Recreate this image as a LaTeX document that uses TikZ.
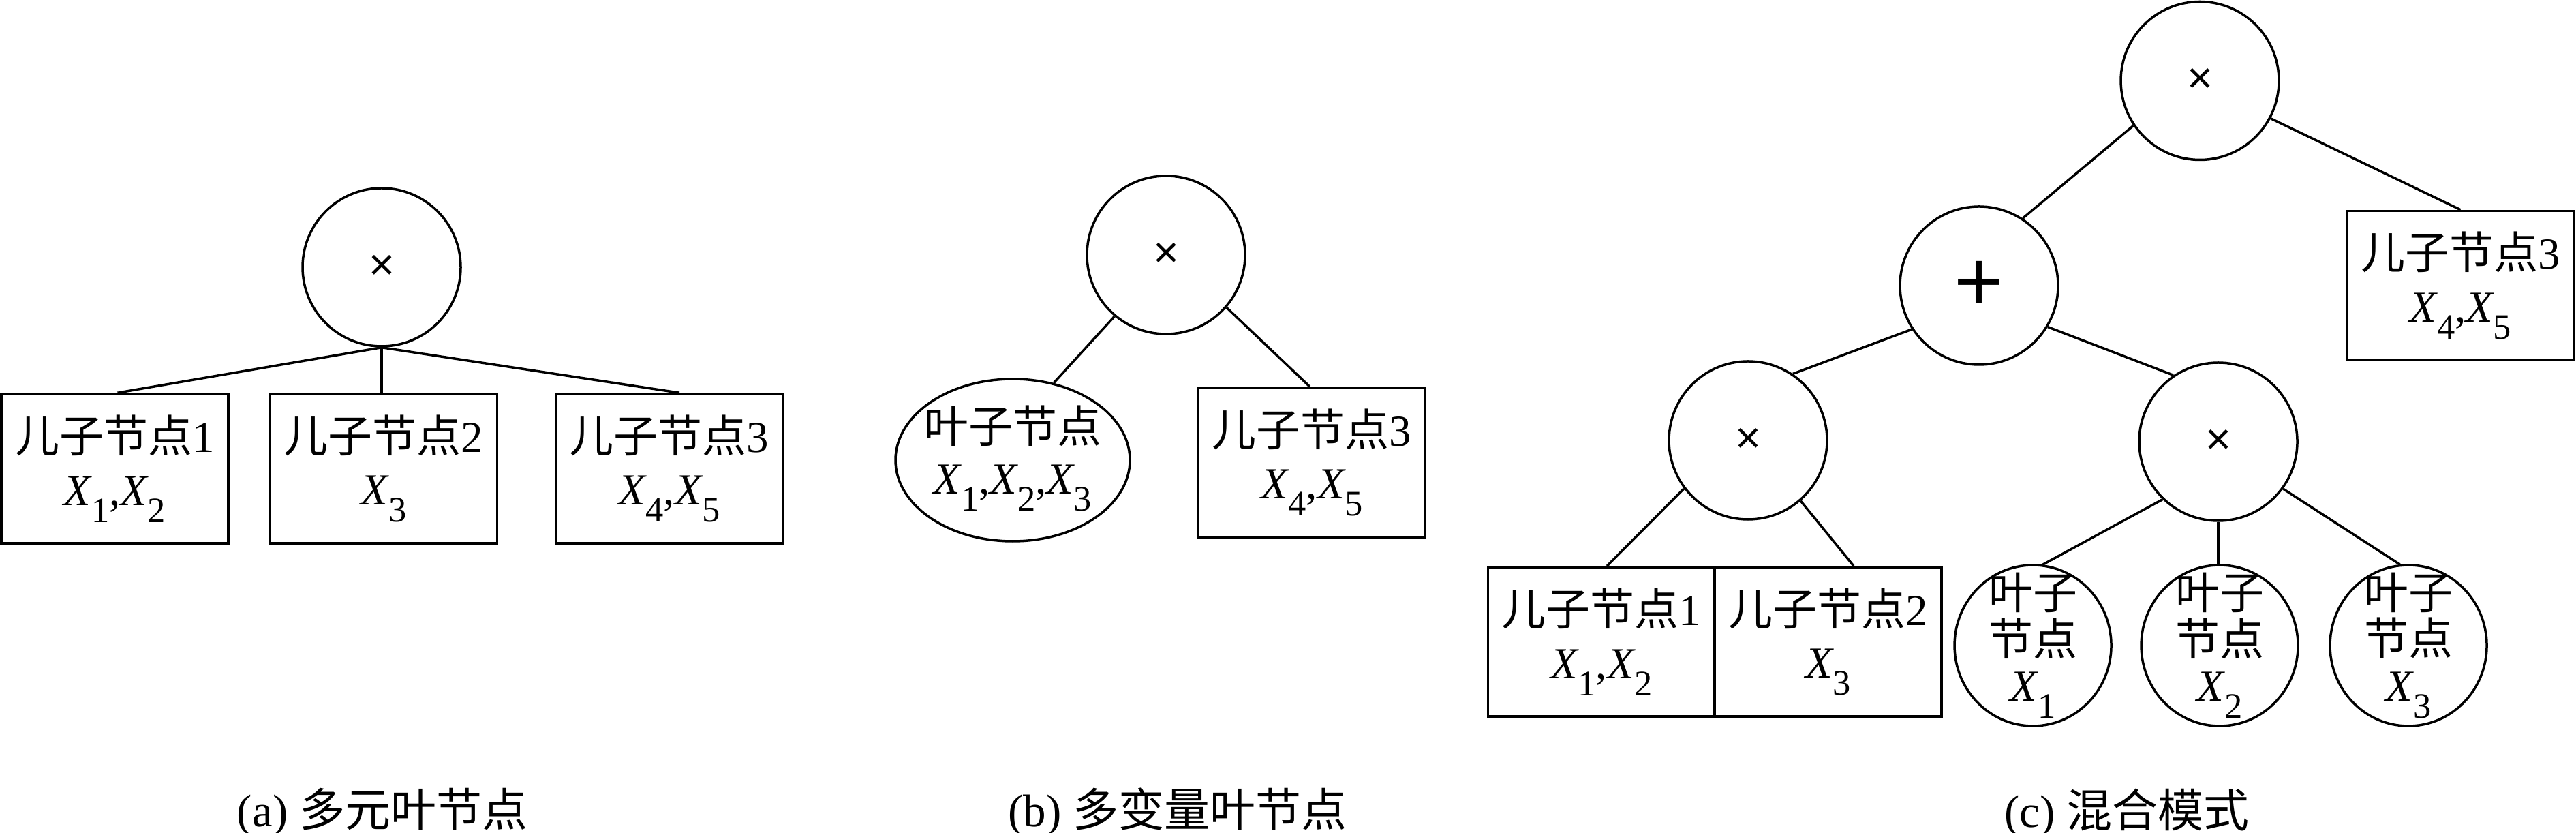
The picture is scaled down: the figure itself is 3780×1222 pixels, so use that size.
\documentclass[tikz,border=0pt]{standalone}
\usepackage{fontspec}
\setmainfont{Liberation Serif}
\newfontfamily\cjkfont{Noto Sans CJK SC}
\newfontfamily\sansfont{Liberation Sans}
\usetikzlibrary{shapes.geometric}
\newcommand\zh[1]{{\cjkfont #1}}
\newcommand\xv[1]{\textit{X}\kern-0.3pt\raisebox{-5pt}{\fontsize{10.5}{12}\selectfont #1}}
\begin{document}
\begin{tikzpicture}[x=0.2pt,y=-0.2pt,
  every node/.style={font=\fontsize{13}{15.5}\selectfont},
  op/.style={draw, circle, line width=0.7pt, minimum size=46.4pt, inner sep=0pt, font=\fontsize{13}{13}\selectfont\sansfont},
  childbox/.style={draw, rectangle, line width=0.7pt, minimum width=66.6pt, minimum height=43.8pt, inner sep=0pt, align=center},
  leafell/.style={draw, ellipse, line width=0.7pt, inner sep=0pt},
  leaftext/.style={align=center, inner sep=0pt, font=\fontsize{13}{13.5}\selectfont},
  conn/.style={line width=0.7pt},
  capt/.style={font=\fontsize{13.4}{16}\selectfont, inner sep=0pt}]
\useasboundingbox (0,0) rectangle (3780,1222);

% ---------- (a) ----------
\node[op] (aroot) at (560,392) {×};
\node[childbox] (a1) at (168.5,687.5) {\zh{儿子节点}1\\\xv{1},\xv{2}};
\node[childbox] (a2) at (563,687.5) {\zh{儿子节点}2\\\xv{3}};
\node[childbox] (a3) at (982,687.5) {\zh{儿子节点}3\\\xv{4},\xv{5}};
\draw[conn] (aroot.south) -- ([xshift=0.8pt]a1.north);
\draw[conn] (aroot.south) -- (aroot.south |- a2.north);
\draw[conn] (aroot.south) -- ([xshift=3pt]a3.north);
\node[capt] (capa) at (561,1191) {(a) \zh{多元叶节点}};

% ---------- (b) ----------
\node[op] (broot) at (1711,374) {×};
\node[leafell, minimum width=68.8pt, minimum height=47.6pt] (bleaf) at (1486,675) {};
\node[leaftext, font=\fontsize{13}{15}\selectfont] (bleaft) at (1486,672) {\zh{叶子节点}\\\xv{1},\xv{2},\xv{3}};
\node[childbox] (bbox) at (1925,678.5) {\zh{儿子节点}3\\\xv{4},\xv{5}};
\draw[conn] (broot.230.6) -- (bleaf.62.7);
\draw[conn] (broot.319.5) -- ([xshift=-0.6pt]bbox.north);
\node[capt] (capb) at (1728,1191) {(b) \zh{多变量叶节点}};

% ---------- (c) ----------
\node[op] (croot) at (3228,118.5) {×};
\node[op, font=\fontsize{25}{25}\selectfont\sansfont] (cplus) at (2904,419) {+};
\node[op] (cl) at (2565,646) {×};
\node[op] (cr) at (3255,648) {×};
\node[childbox] (cbox3) at (3610.5,419) {\zh{儿子节点}3\\\xv{4},\xv{5}};
\node[childbox] (cb1) at (2350,941.5) {\zh{儿子节点}1\\\xv{1},\xv{2}};
\node[childbox] (cb2) at (2682.5,941.5) {\zh{儿子节点}2\\\xv{3}};
\node[leafell, minimum width=46pt, minimum height=47.2pt] (e1) at (2983,947) {};
\node[leafell, minimum width=46pt, minimum height=47.2pt] (e2) at (3257,947) {};
\node[leafell, minimum width=46pt, minimum height=47.2pt] (e3) at (3534,947) {};
\node[leaftext] (e1t) at (2983,947) {\zh{叶子}\\\zh{节点}\\\xv{1}};
\node[leaftext] (e2t) at (3257,947) {\zh{叶子}\\\zh{节点}\\\xv{2}};
\node[leaftext] (e3t) at (3534,947) {\zh{叶子}\\\zh{节点}\\\xv{3}};
\draw[conn] (croot.214) -- (cplus.57.9);
\draw[conn] (croot.332.6) -- (cbox3.north);
\draw[conn] (cplus.213.3) -- (cl.56.7);
\draw[conn] (cplus.329) -- (cr.124.8);
\draw[conn] (cl.217.3) -- ([xshift=1.6pt]cb1.north);
\draw[conn] (cl.311) -- ([xshift=7.5pt]cb2.north);
\draw[conn] (cr.226) -- (e1.83);
\draw[conn] (cr.south) -- (cr.south |- e2.north);
\draw[conn] (cr.324.3) -- (e3.96.8);
\node[capt] (capc) at (3121,1192) {(c) \zh{混合模式}};
\end{tikzpicture}
\end{document}
